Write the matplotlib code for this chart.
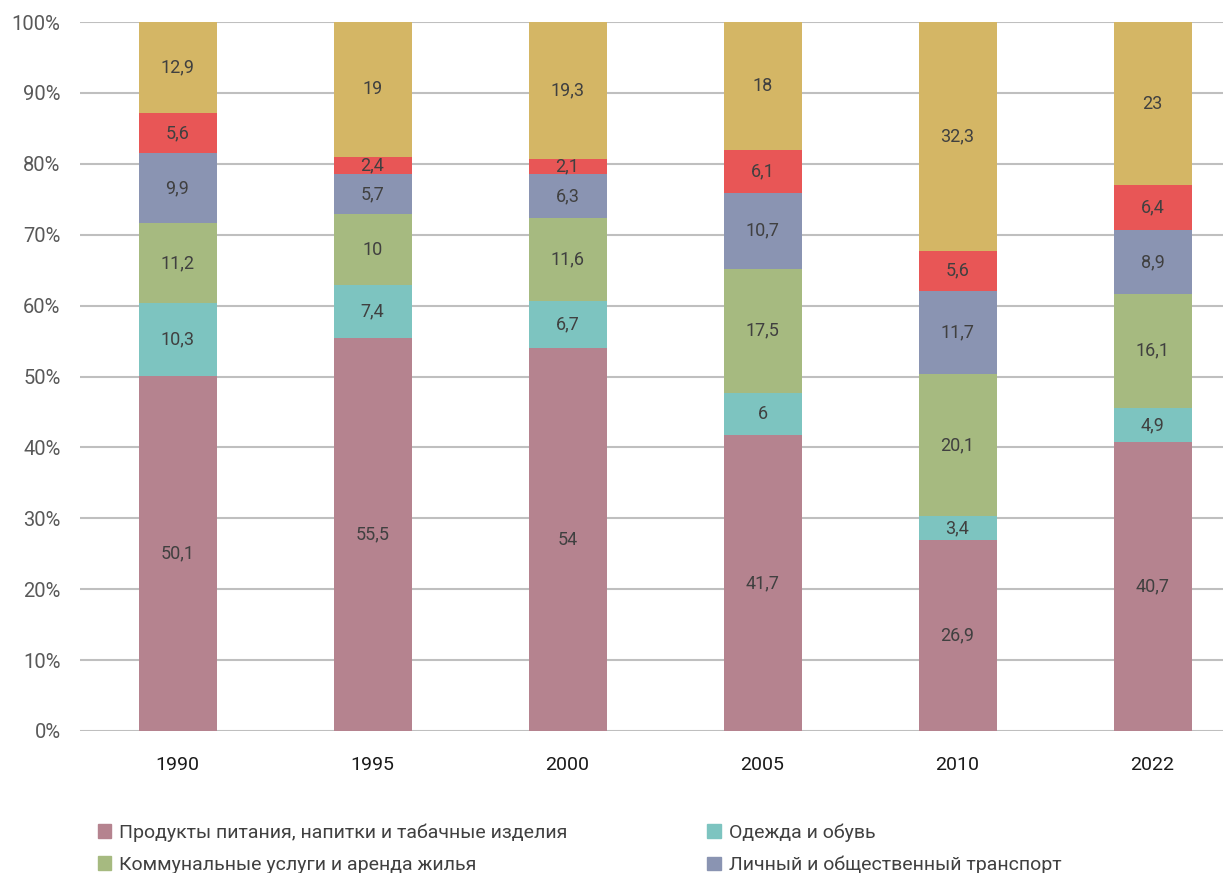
import matplotlib.pyplot as plt
import numpy as np
from matplotlib.patches import Patch

plt.rcParams["font.family"] = ["Roboto", "DejaVu Sans"]

years = ["1990", "1995", "2000", "2005", "2010", "2022"]

food = [50.1, 55.5, 54, 41.7, 26.9, 40.7]
clothes = [10.3, 7.4, 6.7, 6, 3.4, 4.9]
housing = [11.2, 10, 11.6, 17.5, 20.1, 16.1]
transport = [9.9, 5.7, 6.3, 10.7, 11.7, 8.9]
red_group = [5.6, 2.4, 2.1, 6.1, 5.6, 6.4]
other = [12.9, 19, 19.3, 18, 32.3, 23]

series = [food, clothes, housing, transport, red_group, other]
colors = ["#B5838F", "#7DC4C0", "#A6BA80", "#8A94B2", "#E85656", "#D4B665"]
labels = [
    "Продукты питания, напитки и табачные изделия",
    "Одежда и обувь",
    "Коммунальные услуги и аренда жилья",
    "Личный и общественный транспорт",
]

fig = plt.figure(figsize=(12.23, 8.73), dpi=100)
W, H = 1223, 873
ax = fig.add_axes([80 / W, 1 - 731 / H, 1170 / W, (731 - 22) / H])

x = np.arange(len(years))
bottom = np.zeros(len(years))
for vals, color in zip(series, colors):
    vals = np.array(vals, dtype=float)
    ax.bar(x, vals, 0.4, bottom=bottom, color=color, zorder=2)
    for xi, b, v in zip(x, bottom, vals):
        txt = f"{v:g}".replace(".", ",")
        ax.text(xi, b + v / 2, txt, ha="center", va="center",
                fontsize=13, color="#404040", zorder=3)
    bottom += vals

ax.set_xlim(-0.5, len(years) - 0.5)
ax.set_ylim(0, 100)
ax.set_yticks(np.arange(0, 101, 10))
ax.set_yticklabels([f"{v}%" for v in range(0, 101, 10)], fontsize=14.5, color="#595959")
ax.set_xticks(x)
ax.set_xticklabels(years, fontsize=14, color="#1a1a1a")
ax.tick_params(axis="both", length=0)
ax.tick_params(axis="x", pad=18)
ax.tick_params(axis="y", pad=14)
ax.yaxis.grid(True, color="#BFBFBF", linewidth=1.5, zorder=0)
for s in ax.spines.values():
    s.set_visible(False)

col1 = [Patch(color=colors[0]), Patch(color=colors[2])]
col2 = [Patch(color=colors[1]), Patch(color=colors[3])]
kw = dict(loc="upper left", frameon=False, fontsize=14, handlelength=0.7,
          handleheight=0.7, handletextpad=0.4, labelspacing=0.7,
          labelcolor="#404040")
fig.legend(col1, [labels[0], labels[2]], bbox_to_anchor=(80 / W, 1 - 806 / H), **kw)
fig.legend(col2, [labels[1], labels[3]], bbox_to_anchor=(690 / W, 1 - 806 / H), **kw)

fig.savefig("out.png", dpi=100)
